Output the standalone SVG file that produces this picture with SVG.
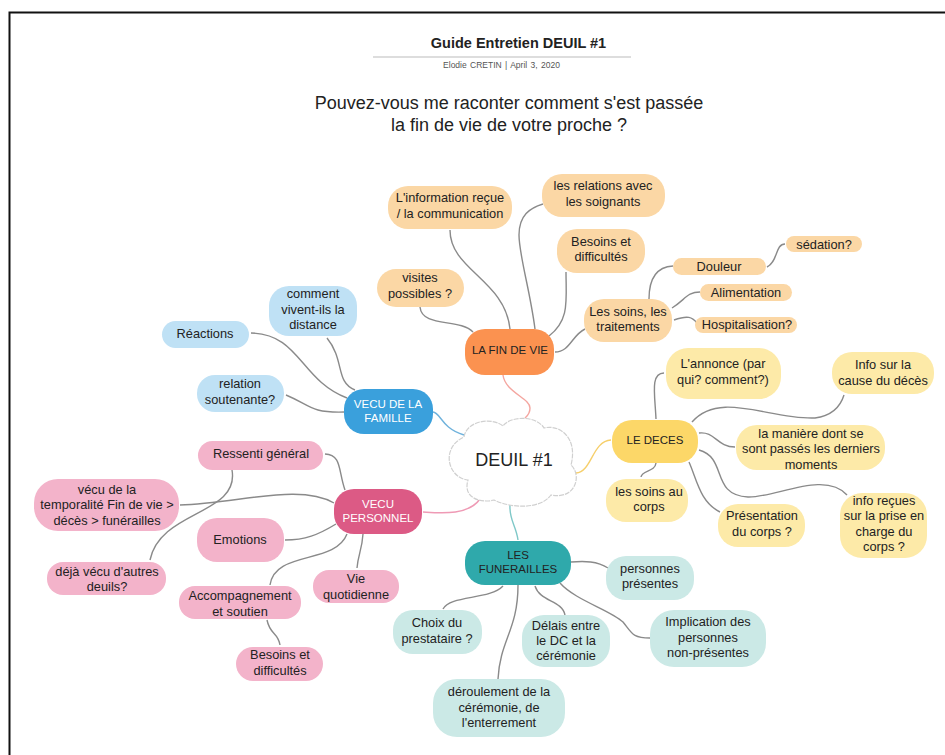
<svg xmlns="http://www.w3.org/2000/svg" width="945" height="755" viewBox="0 0 945 755">
<style>
text{font-family:"Liberation Sans",Arial,sans-serif;text-anchor:middle;fill:#222;font-size:12.8px}
.c{fill:none;stroke:#8a8a8a;stroke-width:1.4}
.or{fill:#fbd7a5}.bl{fill:#bfe1f5}.pk{fill:#f3b3ca}.ye{fill:#fdeaa8}.te{fill:#cbe9e6}
.hd{font-size:11.500px}
</style>
<rect width="945" height="755" fill="#fff"/>
<path d="M9.500 755V12.500H945" fill="none" stroke="#111" stroke-width="2"/>
<g id="header">
<text x="518.500" y="48" style="font-size:14.500px;font-weight:bold">Guide Entretien DEUIL #1</text>
<line x1="373" y1="57" x2="631" y2="57" stroke="#bbb" stroke-width="1.200"/>
<text x="501.500" y="68" style="font-size:8.500px;fill:#555;word-spacing:1px">Elodie CRETIN  |  April 3, 2020</text>
<text x="509" y="109" style="font-size:18px">Pouvez-vous me raconter comment s'est passée</text>
<text x="509" y="131" style="font-size:18px">la fin de vie de votre proche ?</text>
</g>
<g id="connectors">
<path class="c" style="stroke:#f4a6a0" d="M503 375C505 392 530 398 530 408 530 414 527 416 525 418"/>
<path class="c" style="stroke:#6fb2dc" d="M433 412C441 413 441 428 464 435"/>
<path class="c" style="stroke:#ef9ab5" d="M423 512C440 513 468 516 480 499"/>
<path class="c" style="stroke:#f6cf6b" d="M611 440C592 441 592 472 576 473 572 473 570 470 570 467"/>
<path class="c" style="stroke:#7fc8c8" d="M518 540C516 525 509 520 510 505"/>
<path class="c" d="M450 230C450 270 505 280 510 329"/>
<path class="c" d="M535 329C530 290 519 255 519 235 519 215 530 208 543 204"/>
<path class="c" d="M549 336C570 320 566 300 566 272"/>
<path class="c" d="M420 307C422 328 460 318 473 332"/>
<path class="c" d="M555 352C570 352 572 335 585 329"/>
<path class="c" d="M649 299C649 280 655 267 673 266"/>
<path class="c" d="M672 308C685 300 687 292 700 292"/>
<path class="c" d="M674 320C688 315 692 317 697 323"/>
<path class="c" d="M767 267C778 262 775 244 785 244"/>
<path class="c" d="M327 338C345 360 335 382 355 390"/>
<path class="c" d="M251 333C300 334 300 380 347 398"/>
<path class="c" d="M286 395C310 405 310 413 344 412"/>
<path class="c" d="M325 454C342 455 338 470 345 490"/>
<path class="c" d="M180 505C240 503 300 483 334 503"/>
<path class="c" d="M285 540C305 540 318 535 336 524"/>
<path class="c" d="M347 534C335 565 275 550 270 585"/>
<path class="c" d="M363 534C362 550 358 555 357 568"/>
<path class="c" d="M232 470C240 515 160 510 150 560"/>
<path class="c" d="M267 620C270 635 278 632 280 645"/>
<path class="c" d="M656 419C655 395 650 373 664 373"/>
<path class="c" d="M692 422C720 390 770 420 815 418 830 416 840 408 844 395"/>
<path class="c" d="M699 433C715 431 717 447 735 447"/>
<path class="c" d="M699 450C728 458 710 495 748 497 775 498 825 470 847 495"/>
<path class="c" d="M689 462C697 480 700 502 720 512"/>
<path class="c" d="M656 463C655 472 642 470 641 477"/>
<path class="c" d="M571 562C585 561 597 561 608 568"/>
<path class="c" d="M503 586C490 600 450 595 443 609"/>
<path class="c" d="M518 585C518 630 500 640 498 679"/>
<path class="c" d="M535 586C540 602 562 600 565 615"/>
<path class="c" d="M560 583C575 600 610 610 623 622 632 633 632 638 650 638"/>
</g>
<g id="deuil">
<path d="M464 437C466 422 490 416 503 426 510 416 536 415 544 428 560 424 578 438 571 465 582 475 576 500 551 495 540 510 510 508 494 500 484 503 462 500 468 480 448 478 440 448 464 437Z" fill="#fff" stroke="#d0d0d0" stroke-width="1.200" stroke-dasharray="5 1"/>
<text x="514" y="466" style="font-size:18px">DEUIL #1</text>
</g>
<g id="fin"><rect x="465" y="329" width="89" height="46" rx="20" fill="#fb9250"/><text x="510" y="354" class="hd">LA FIN DE VIE</text></g>
<g id="famille"><rect x="344" y="389" width="89" height="45" rx="20" fill="#3aa0dc"/><text x="388" y="408" class="hd" style="fill:#fff">VECU DE LA</text><text x="388" y="422" class="hd" style="fill:#fff">FAMILLE</text></g>
<g id="personnel"><rect x="334" y="489" width="88" height="45" rx="20" fill="#dc5a85"/><text x="378" y="508" class="hd" style="fill:#fff">VECU</text><text x="378" y="522" class="hd" style="fill:#fff">PERSONNEL</text></g>
<g id="deces"><rect x="612" y="420" width="86" height="43" rx="20" fill="#fcd768"/><text x="655" y="444" class="hd">LE DECES</text></g>
<g id="funerailles"><rect x="465" y="541" width="106" height="44" rx="20" fill="#2fa9ab"/><text x="518" y="559" class="hd">LES</text><text x="518" y="573" class="hd">FUNERAILLES</text></g>
<g id="n1"><rect x="388" y="186" width="124" height="43" rx="20" class="or"/><text x="450" y="202">L'information reçue</text><text x="450" y="218">/ la communication</text></g>
<g id="n2"><rect x="542" y="174" width="123" height="43" rx="20" class="or"/><text x="603" y="190">les relations avec</text><text x="603" y="206">les soignants</text></g>
<g id="n3"><rect x="557" y="229" width="88" height="44" rx="20" class="or"/><text x="601" y="246">Besoins et</text><text x="601" y="261">difficultés</text></g>
<g id="n4"><rect x="377" y="269" width="87" height="38" rx="19" class="or"/><text x="420" y="282">visites</text><text x="420" y="298">possibles ?</text></g>
<g id="n5"><rect x="584" y="299" width="88" height="43" rx="20" class="or"/><text x="628" y="316">Les soins, les</text><text x="628" y="331">traitements</text></g>
<g id="n6"><rect x="673" y="258" width="93" height="17" rx="8.500" class="or"/><text x="719" y="271">Douleur</text></g>
<g id="n7"><rect x="700" y="284" width="92" height="17" rx="8.500" class="or"/><text x="746" y="297">Alimentation</text></g>
<g id="n8"><rect x="695" y="317" width="102" height="16" rx="8" class="or"/><text x="747" y="329">Hospitalisation?</text></g>
<g id="n9"><rect x="786" y="236" width="76" height="16" rx="8" class="or"/><text x="824" y="249">sédation?</text></g>
<g id="b1"><rect x="269" y="286" width="88" height="50" rx="20" class="bl"/><text x="313" y="298">comment</text><text x="313" y="314">vivent-ils la</text><text x="313" y="329">distance</text></g>
<g id="b2"><rect x="162" y="321" width="87" height="27" rx="13.500" class="bl"/><text x="205" y="338">Réactions</text></g>
<g id="b3"><rect x="197" y="375" width="87" height="37" rx="18" class="bl"/><text x="240" y="388">relation</text><text x="240" y="404">soutenante?</text></g>
<g id="p1"><rect x="198" y="441" width="125" height="29" rx="14.500" class="pk"/><text x="261" y="458">Ressenti général</text></g>
<g id="p2"><rect x="34" y="479" width="145" height="52" rx="24" class="pk"/><text x="107" y="494">vécu de la</text><text x="107" y="509">temporalité Fin de vie &gt;</text><text x="107" y="525">décès &gt; funérailles</text></g>
<g id="p3"><rect x="197" y="518" width="87" height="44" rx="20" class="pk"/><text x="240" y="544">Emotions</text></g>
<g id="p4"><rect x="47" y="562" width="119" height="33" rx="16" class="pk"/><text x="107" y="576">déjà vécu d'autres</text><text x="107" y="591">deuils?</text></g>
<g id="p5"><rect x="179" y="586" width="122" height="33" rx="16" class="pk"/><text x="240" y="600">Accompagnement</text><text x="240" y="616">et soutien</text></g>
<g id="p6"><rect x="313" y="570" width="86" height="33" rx="16" class="pk"/><text x="356" y="583">Vie</text><text x="356" y="599">quotidienne</text></g>
<g id="p7"><rect x="236" y="647" width="87" height="34" rx="17" class="pk"/><text x="280" y="659">Besoins et</text><text x="280" y="675">difficultés</text></g>
<g id="y1"><rect x="666" y="348" width="115" height="51" rx="22" class="ye"/><text x="723" y="368">L'annonce (par</text><text x="723" y="384">qui? comment?)</text></g>
<g id="y2"><rect x="832" y="352" width="102" height="42" rx="20" class="ye"/><text x="883" y="369">Info sur la</text><text x="883" y="385">cause du décès</text></g>
<g id="y3"><rect x="736" y="425" width="149" height="45" rx="21" class="ye"/><text x="811" y="438">la manière dont se</text><text x="811" y="453">sont passés les derniers</text><text x="811" y="469">moments</text></g>
<g id="y4"><rect x="606" y="479" width="82" height="43" rx="20" class="ye"/><text x="649" y="496">les soins au</text><text x="649" y="511">corps</text></g>
<g id="y5"><rect x="718" y="504" width="87" height="43" rx="20" class="ye"/><text x="762" y="520">Présentation</text><text x="762" y="536">du corps ?</text></g>
<g id="y6"><rect x="840" y="493" width="87" height="65" rx="22" class="ye"/><text x="884" y="505">info reçues</text><text x="884" y="520">sur la prise en</text><text x="884" y="536">charge du</text><text x="884" y="551">corps ?</text></g>
<g id="t1"><rect x="606" y="556" width="88" height="44" rx="20" class="te"/><text x="650" y="573">personnes</text><text x="650" y="588">présentes</text></g>
<g id="t2"><rect x="393" y="610" width="89" height="44" rx="20" class="te"/><text x="437" y="627">Choix du</text><text x="437" y="643">prestataire ?</text></g>
<g id="t3"><rect x="522" y="615" width="88" height="52" rx="22" class="te"/><text x="566" y="630">Délais entre</text><text x="566" y="645">le DC et la</text><text x="566" y="660">cérémonie</text></g>
<g id="t4"><rect x="650" y="610" width="116" height="57" rx="24" class="te"/><text x="708" y="626">Implication des</text><text x="708" y="642">personnes</text><text x="708" y="657">non-présentes</text></g>
<g id="t5"><rect x="433" y="679" width="132" height="58" rx="24" class="te"/><text x="499" y="696">déroulement de la</text><text x="499" y="712">cérémonie, de</text><text x="499" y="727">l'enterrement</text></g>
</svg>
